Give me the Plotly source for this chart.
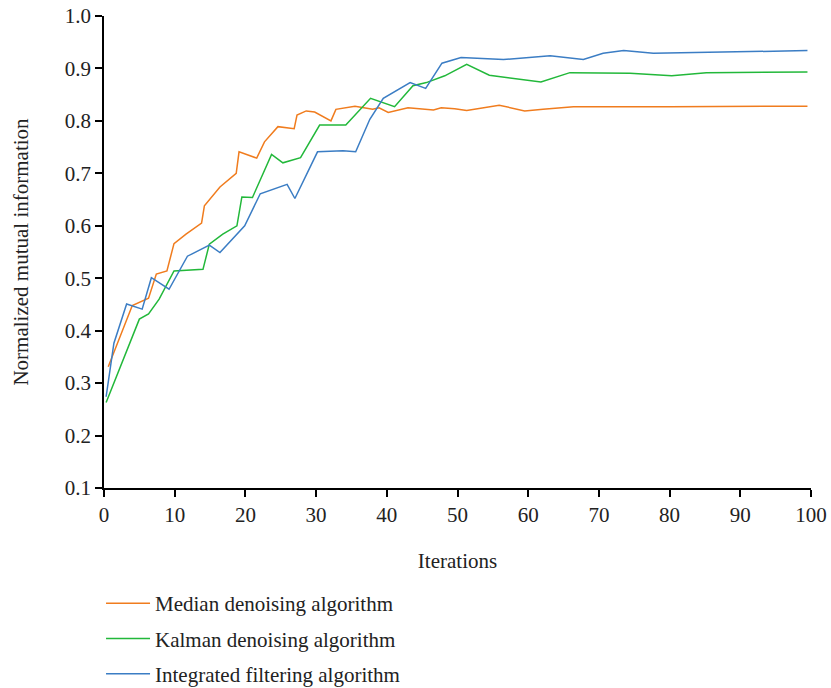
import plotly.graph_objects as go

median_x = [0.6, 4.0, 6.3, 7.4, 8.9, 9.9, 11.6, 13.8, 14.2, 16.4, 18.7, 19.1, 21.6, 22.7, 24.6, 26.9, 27.3,
            28.6, 29.8, 32.1, 32.8, 35.5, 38.0, 38.9, 40.2, 43.0, 46.6, 47.7, 49.6, 51.3, 55.9, 59.5, 62.1,
            66.4, 80.0, 99.5]
median_y = [0.331, 0.448, 0.462, 0.508, 0.514, 0.566, 0.584, 0.605, 0.638, 0.674, 0.700, 0.741, 0.729, 0.760,
            0.789, 0.785, 0.811, 0.819, 0.817, 0.800, 0.822, 0.828, 0.822, 0.825, 0.816, 0.825, 0.821, 0.825,
            0.823, 0.820, 0.830, 0.819, 0.822, 0.827, 0.827, 0.828]

kalman_x = [0.3, 5.0, 6.3, 7.8, 9.9, 14.0, 14.9, 16.8, 18.8, 19.5, 21.0, 23.7, 25.3, 27.8, 30.5, 34.2, 37.7,
            41.1, 43.7, 45.6, 48.2, 51.3, 54.5, 61.8, 65.9, 74.4, 80.3, 85.2, 99.5]
kalman_y = [0.263, 0.422, 0.432, 0.460, 0.514, 0.517, 0.565, 0.584, 0.600, 0.655, 0.654, 0.736, 0.720, 0.730,
            0.792, 0.792, 0.843, 0.827, 0.867, 0.873, 0.886, 0.908, 0.887, 0.874, 0.892, 0.891, 0.886, 0.892,
            0.893]

integrated_x = [0.3, 1.4, 3.2, 5.4, 6.7, 9.2, 11.8, 14.9, 16.4, 19.9, 22.1, 25.9, 27.0, 29.1, 30.2, 33.8,
                35.6, 37.6, 39.5, 43.3, 45.5, 47.8, 50.5, 56.5, 63.1, 67.8, 70.6, 73.5, 77.7, 99.5]
integrated_y = [0.274, 0.376, 0.451, 0.441, 0.501, 0.479, 0.542, 0.563, 0.549, 0.600, 0.661, 0.679, 0.652,
                0.710, 0.741, 0.743, 0.741, 0.803, 0.843, 0.873, 0.862, 0.910, 0.921, 0.917, 0.924, 0.917,
                0.929, 0.934, 0.929, 0.934]

names = ["Median denoising algorithm", "Kalman denoising algorithm", "Integrated filtering algorithm"]
colors = ["#F07C1E", "#22B83A", "#3B7DC4"]

FONT = "Liberation Serif"
FS = 21

fig = go.Figure()
for i, (xs, ys) in enumerate([(median_x, median_y), (kalman_x, kalman_y), (integrated_x, integrated_y)]):
    fig.add_trace(go.Scatter(x=xs, y=ys, mode="lines", name=names[i], legendgroup=f"g{i}",
                             line=dict(color=colors[i], width=1.5)))

axis_common = dict(showline=True, linecolor="black", linewidth=1.5, ticks="outside", ticklen=7,
                   tickwidth=1.5, tickcolor="black", showgrid=False, zeroline=False, automargin=False,
                   tickfont=dict(family=FONT, size=FS, color="#222"))

fig.update_layout(
    width=831, height=688,
    margin=dict(l=104, r=20, t=16, b=200),
    plot_bgcolor="white", paper_bgcolor="white",
    font=dict(family=FONT, size=FS, color="#222"),
    xaxis=dict(range=[0, 100], dtick=10, title=dict(text="Iterations", standoff=27,
               font=dict(family=FONT, size=FS)), **axis_common),
    yaxis=dict(range=[0.1, 1.0], dtick=0.1, tickformat=".1f",
               title=dict(text="Normalized mutual information", standoff=30,
                          font=dict(family=FONT, size=FS)), **axis_common),
    legend=dict(orientation="v", x=-0.0042, xanchor="left", yref="container", y=0.1525, yanchor="top",
                font=dict(family=FONT, size=FS, color="#222"), tracegroupgap=5,
                itemwidth=44, bgcolor="rgba(0,0,0,0)"),
    showlegend=True,
)

fig.write_html("out.html")
